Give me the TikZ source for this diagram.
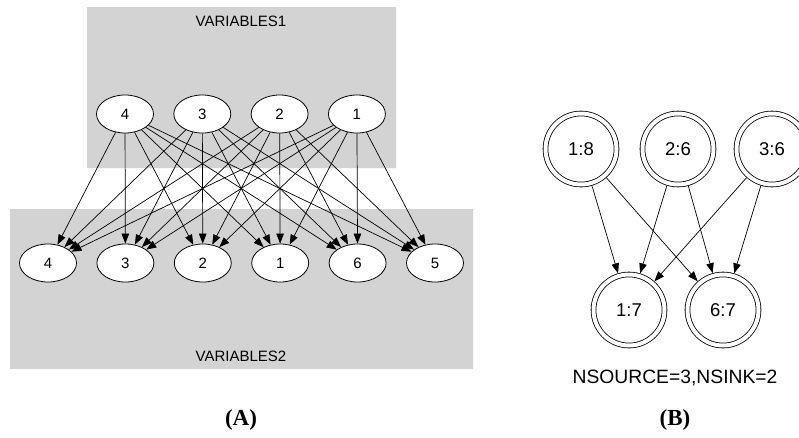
\documentclass[tikz,border=0pt]{standalone}
\usepackage{fontspec}
\setmainfont{Liberation Sans}
\newfontfamily\capfont{Liberation Serif}
\usetikzlibrary{arrows.meta,shapes.geometric}

\definecolor{clustergray}{HTML}{D3D3D3}

\tikzset{
  var/.style={draw, ellipse, fill=white, line width=0.8pt,
    minimum width=57pt, minimum height=38pt, inner sep=0pt,
    font=\fontsize{15}{15}\selectfont},
  cnt/.style={draw, circle, double, double distance=4pt, line width=0.8pt,
    minimum size=71pt, inner sep=0pt, outer sep=2.8pt,
    font=\fontsize{18.5}{18.5}\selectfont},
  edge/.style={-{Triangle[length=10pt,width=7.5pt]}, line width=0.7pt},
}

\begin{document}
\begin{tikzpicture}[x=1pt,y=-1pt]
\useasboundingbox (0,0) rectangle (799,437);

% clusters
\fill[clustergray]
(87,7) rectangle (396,168)
(10,209) rectangle (473,369)
;
\node[font=\fontsize{15}{15}\selectfont] (varsA) at (241,21) {VARIABLES1};
\node[font=\fontsize{15}{15}\selectfont] (varsB) at (241,356) {VARIABLES2};

\foreach[count=\k] \v in {4,3,2,1}
  \node[var] (u\v) at ({125+77.3*(\k-1)},114) {\v};
\foreach[count=\k] \v in {4,3,2,1,6,5}
  \node[var] (w\v) at ({48+77.4*(\k-1)},263) {\v};

\foreach \s in {4,3,2,1}
  \foreach \t in {4,3,2,1,6,5}
    \draw[edge] (u\s) -- (w\t);

% right graph
\node[cnt] (src1) at (581,149) {1:8};
\node[cnt] (src2) at (678,149) {2:6};
\node[cnt] (src3) at (772,149) {3:6};
\node[cnt] (snk1) at (629,310) {1:7};
\node[cnt] (snk6) at (723,310) {6:7};

\foreach \s in {src1,src2,src3}
  \foreach \t in {snk1,snk6}
    \draw[edge] (\s) -- (\t);

\node[font=\fontsize{19.3}{19.3}\selectfont] (count) at (675,378) {NSOURCE=3,NSINK=2};

\node[font=\capfont\bfseries\fontsize{23}{23}\selectfont] (capA) at (241,420) {(A)};
\node[font=\capfont\bfseries\fontsize{23}{23}\selectfont] (capB) at (675,420) {(B)};

\end{tikzpicture}
\end{document}
